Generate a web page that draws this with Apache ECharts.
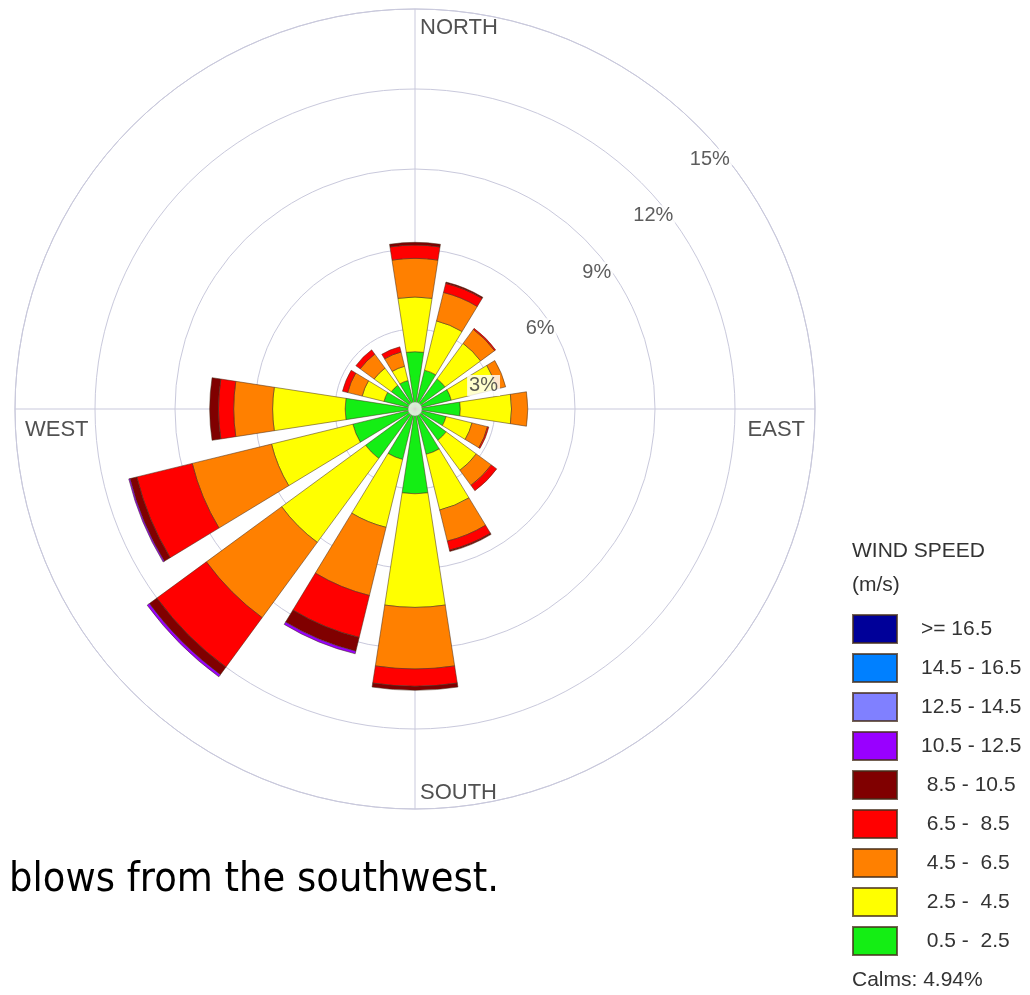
<!DOCTYPE html>
<html>
<head>
<meta charset="utf-8">
<script src="https://cdn.jsdelivr.net/npm/echarts@6/dist/echarts.min.js"></script>
<style>
  html, body { margin: 0; padding: 0; background: #ffffff; }
  #chart { width: 1030px; height: 995px; }
</style>
</head>
<body>
<div id="chart"></div>
<script>
// Wind directions (blowing from), clockwise from north
const directions = ['N', 'NNE', 'NE', 'ENE', 'E', 'ESE', 'SE', 'SSE',
                    'S', 'SSW', 'SW', 'WSW', 'W', 'WNW', 'NW', 'NNW'];

// Frequency (%) per direction for each wind speed class (m/s)
const speed0_5to2_5   = [2.15, 1.50, 1.40, 1.40, 1.70, 1.20, 1.45, 1.75, 3.18, 1.95, 2.30, 2.40, 2.62, 1.20, 1.10, 1.10];
const speed2_5to4_5   = [2.05, 1.90, 1.65, 1.75, 1.92, 1.00, 1.40, 2.15, 4.26, 2.62, 3.90, 3.14, 2.72, 0.84, 0.80, 0.55];
const speed4_5to6_5   = [1.45, 1.10, 0.65, 0.35, 0.61, 0.60, 0.70, 1.20, 2.31, 2.63, 3.50, 3.06, 1.46, 0.56, 0.65, 0.55];
const speed6_5to8_5   = [0.50, 0.35, 0.05, 0,    0,    0.05, 0.25, 0.35, 0.65, 1.62, 2.30, 2.14, 0.57, 0.20, 0.20, 0.20];
const speed8_5to10_5  = [0.10, 0.05, 0,    0,    0,    0,    0,    0.05, 0.15, 0.53, 0.35, 0.26, 0.33, 0,    0,    0   ];
const speed10_5to12_5 = [0,    0,    0,    0,    0,    0,    0,    0,    0,    0.10, 0.10, 0.05, 0,    0,    0,    0   ];
const speed12_5to14_5 = [0,    0,    0,    0,    0,    0,    0,    0,    0,    0,    0,    0,    0,    0,    0,    0   ];
const speed14_5to16_5 = [0,    0,    0,    0,    0,    0,    0,    0,    0,    0,    0,    0,    0,    0,    0,    0   ];
const speed16_5up     = [0,    0,    0,    0,    0,    0,    0,    0,    0,    0,    0,    0,    0,    0,    0,    0   ];

const calmsPercent = 4.94;

// Ring ticks (%) and compass labels
const ringTicks = [3, 6, 9, 12, 15];
const compassNames = ['NORTH', 'EAST', 'SOUTH', 'WEST'];
const compassAngles = [0, 90, 180, 270];

// Speed classes, innermost first (stack order)
const speedClasses = [
  { name: ' 0.5 -  2.5', color: '#14ee14', values: speed0_5to2_5 },
  { name: ' 2.5 -  4.5', color: '#ffff00', values: speed2_5to4_5 },
  { name: ' 4.5 -  6.5', color: '#ff8000', values: speed4_5to6_5 },
  { name: ' 6.5 -  8.5', color: '#ff0000', values: speed6_5to8_5 },
  { name: ' 8.5 - 10.5', color: '#800000', values: speed8_5to10_5 },
  { name: '10.5 - 12.5', color: '#9900ff', values: speed10_5to12_5 },
  { name: '12.5 - 14.5', color: '#8080ff', values: speed12_5to14_5 },
  { name: '14.5 - 16.5', color: '#0080ff', values: speed14_5to16_5 },
  { name: '>= 16.5',     color: '#000099', values: speed16_5up }
];

const FONT = '"Liberation Sans", Arial, sans-serif';
const GRID = '#c9c9dc';
const CENTER = [415, 409];
const RADIUS = 400;
const RMAX = 15;

const chart = echarts.init(document.getElementById('chart'), null, { renderer: 'canvas' });

const barSeries = speedClasses.map(c => ({
  type: 'bar',
  name: c.name,
  coordinateSystem: 'polar',
  polarIndex: 1,
  stack: 'rose',
  barCategoryGap: '22%',
  silent: true,
  z: 2,
  itemStyle: { color: c.color, borderColor: 'rgba(70,45,25,0.75)', borderWidth: 0.7 },
  data: c.values.map(v => (v > 0 ? v : null))
}));

const ringLabelSeries = {
  type: 'scatter',
  coordinateSystem: 'polar',
  polarIndex: 0,
  silent: true,
  z: 6,
  symbolSize: 1,
  itemStyle: { color: 'rgba(0,0,0,0)' },
  data: ringTicks.map(t => [t, 45]),
  label: {
    show: true,
    position: 'inside',
    offset: [12, 33],
    formatter: p => p.value[0] + '%',
    fontFamily: FONT,
    fontSize: 20,
    color: '#333333',
    backgroundColor: '#ffffff',
    padding: [1, 2, 0, 2]
  }
};

const compassLabelOpts = [
  { align: 'left',  offset: [5, 19] },
  { align: 'right', offset: [-10, 21] },
  { align: 'left',  offset: [5, -16] },
  { align: 'left',  offset: [10, 21] }
];

const compassSeries = {
  type: 'scatter',
  coordinateSystem: 'polar',
  polarIndex: 0,
  silent: true,
  z: 6,
  symbolSize: 1,
  itemStyle: { color: 'rgba(0,0,0,0)' },
  data: compassAngles.map((a, i) => ({
    value: [RMAX, a],
    label: {
      show: true,
      position: 'inside',
      formatter: compassNames[i],
      align: compassLabelOpts[i].align,
      verticalAlign: 'middle',
      offset: compassLabelOpts[i].offset,
      fontFamily: FONT,
      fontSize: 22,
      color: '#262626'
    }
  }))
};

const calmSeries = {
  type: 'scatter',
  coordinateSystem: 'polar',
  polarIndex: 0,
  silent: true,
  z: 7,
  symbolSize: 14,
  itemStyle: { color: '#ffffff', borderColor: '#8a8a8a', borderWidth: 0.6 },
  data: [[0, 0]]
};

const option = {
  animation: false,
  backgroundColor: '#ffffff',
  title: [
    {
      text: 'WIND SPEED\n(m/s)',
      left: 852,
      top: 534,
      padding: 0,
      textStyle: { fontFamily: FONT, fontSize: 21, fontWeight: 'normal', color: '#333333', lineHeight: 34 }
    },
    {
      text: 'Calms: ' + calmsPercent.toFixed(2) + '%',
      left: 852,
      top: 970,
      padding: 0,
      textStyle: { fontFamily: FONT, fontSize: 21, fontWeight: 'normal', color: '#333333' }
    }
  ],
  legend: {
    orient: 'vertical',
    left: 852,
    top: 614,
    padding: 0,
    itemWidth: 44,
    itemHeight: 28,
    itemGap: 9,
    icon: 'rect',
    selectedMode: false,
    data: speedClasses.map(c => c.name).reverse(),
    textStyle: { fontFamily: FONT, fontSize: 21, color: '#333333', lineHeight: 28, padding: [0, 0, 0, 19] }
  },
  polar: [
    { center: CENTER, radius: RADIUS },
    { center: CENTER, radius: RADIUS }
  ],
  angleAxis: [
    {
      polarIndex: 0,
      type: 'value',
      min: 0,
      max: 360,
      interval: 90,
      startAngle: 90,
      clockwise: true,
      axisLine: { show: true, lineStyle: { color: GRID, width: 1 } },
      axisTick: { show: false },
      axisLabel: { show: false },
      splitLine: { show: true, lineStyle: { color: GRID, width: 1 } }
    },
    {
      polarIndex: 1,
      type: 'category',
      data: directions,
      startAngle: 90 + 360 / directions.length / 2,
      clockwise: true,
      boundaryGap: true,
      axisLine: { show: false },
      axisTick: { show: false },
      axisLabel: { show: false },
      splitLine: { show: false }
    }
  ],
  radiusAxis: [
    {
      polarIndex: 0,
      type: 'value',
      min: 0,
      max: RMAX,
      interval: 3,
      axisLine: { show: false },
      axisTick: { show: false },
      axisLabel: { show: false },
      splitLine: { show: true, lineStyle: { color: GRID, width: 1 } }
    },
    {
      polarIndex: 1,
      type: 'value',
      min: 0,
      max: RMAX,
      axisLine: { show: false },
      axisTick: { show: false },
      axisLabel: { show: false },
      splitLine: { show: false }
    }
  ],
  graphic: [
    {
      type: 'text',
      x: 9,
      y: 861,
      scaleX: 0.925,
      style: { text: 'blows from the southwest.', font: '40px "DejaVu Sans", sans-serif', fill: '#000000' }
    }
  ],
  series: barSeries.concat([ringLabelSeries, compassSeries, calmSeries])
};

chart.setOption(option);
</script>
</body>
</html>
